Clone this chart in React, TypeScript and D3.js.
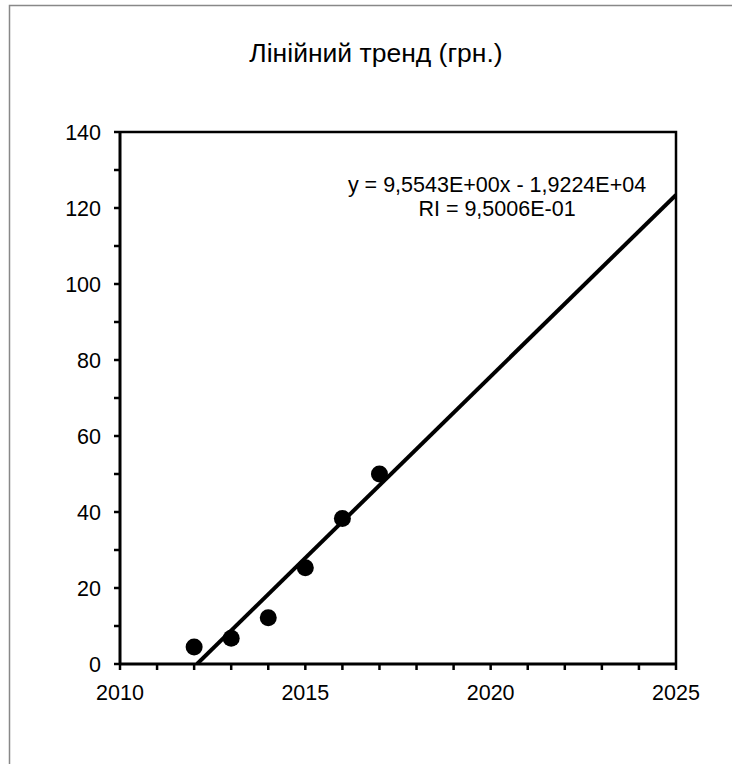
import React from 'react';
import * as d3 from 'd3';

const years = [2012, 2013, 2014, 2015, 2016, 2017];
const prices = [4.5, 6.8, 12.2, 25.3, 38.3, 50];
const slope = 9.5543;
const intercept = -19224;
const xTicks = [2010, 2015, 2020, 2025];
const yTicks = [0, 20, 40, 60, 80, 100, 120, 140];
const title = 'Лінійний тренд (грн.)';
const eqLine = 'y = 9,5543E+00x - 1,9224E+04';
const r2Line = 'RI = 9,5006E-01';

const W = 732;
const H = 764;
const left = 120;
const right = 676;
const top = 132;
const bottom = 664;
const font = '"Liberation Sans", Arial, sans-serif';

export default function App() {
  const x = d3.scaleLinear().domain([2010, 2025]).range([left, right]);
  const y = d3.scaleLinear().domain([0, 140]).range([bottom, top]);

  // trend line between y=0 crossing and the right edge
  const x0 = -intercept / slope;
  const trend = [x0, 2025].map(v => [x(v), y(slope * v + intercept)] as [number, number]);
  const line = d3.line();

  const xMinor = d3.range(2010, 2026, 1);
  const yMinor = d3.range(0, 141, 10);

  return (
    <svg width={W} height={H} style={{ position: 'absolute', left: 0, top: 0 }}>
      <rect x={0} y={0} width={W} height={H} fill="#fff" />
      <rect x={9.5} y={5.5} width={W + 20} height={H + 20} fill="none" stroke="#888" strokeWidth={1.5} />
      <text x={376} y={62} textAnchor="middle" fontFamily={font} fontSize={26.5}>{title}</text>

      <clipPath id="plot">
        <rect x={left} y={top} width={right - left} height={bottom - top} />
      </clipPath>
      <path d={line(trend) || ''} stroke="#000" strokeWidth={4} fill="none" clipPath="url(#plot)" />

      {years.map((yr, i) => (
        <circle key={yr} cx={x(yr)} cy={y(prices[i])} r={8.5} fill="#000" />
      ))}

      <path d={`M${left},${top}H${right}V${bottom}`} stroke="#000" strokeWidth={2.5} fill="none" />
      <line x1={left} x2={left} y1={top - 1} y2={bottom + 1} stroke="#000" strokeWidth={3} />
      <line x1={left - 1} x2={right + 1} y1={bottom} y2={bottom} stroke="#000" strokeWidth={3} />

      {yMinor.map(v => (
        <line key={'yt' + v} x1={left - 6} x2={left} y1={y(v)} y2={y(v)} stroke="#000" strokeWidth={2.5} />
      ))}
      {xMinor.map(v => (
        <line key={'xt' + v} x1={x(v)} x2={x(v)} y1={bottom} y2={bottom + 6} stroke="#000" strokeWidth={2.5} />
      ))}

      {yTicks.map(v => (
        <text key={'yl' + v} x={101} y={y(v) + 8} textAnchor="end" fontFamily={font} fontSize={21.5}>{v}</text>
      ))}
      {xTicks.map(v => (
        <text key={'xl' + v} x={x(v)} y={700} textAnchor="middle" fontFamily={font} fontSize={21.5}>{v}</text>
      ))}

      <text x={497} y={192} textAnchor="middle" fontFamily={font} fontSize={21.5}>{eqLine}</text>
      <text x={497} y={216} textAnchor="middle" fontFamily={font} fontSize={21.5}>{r2Line}</text>
    </svg>
  );
}
